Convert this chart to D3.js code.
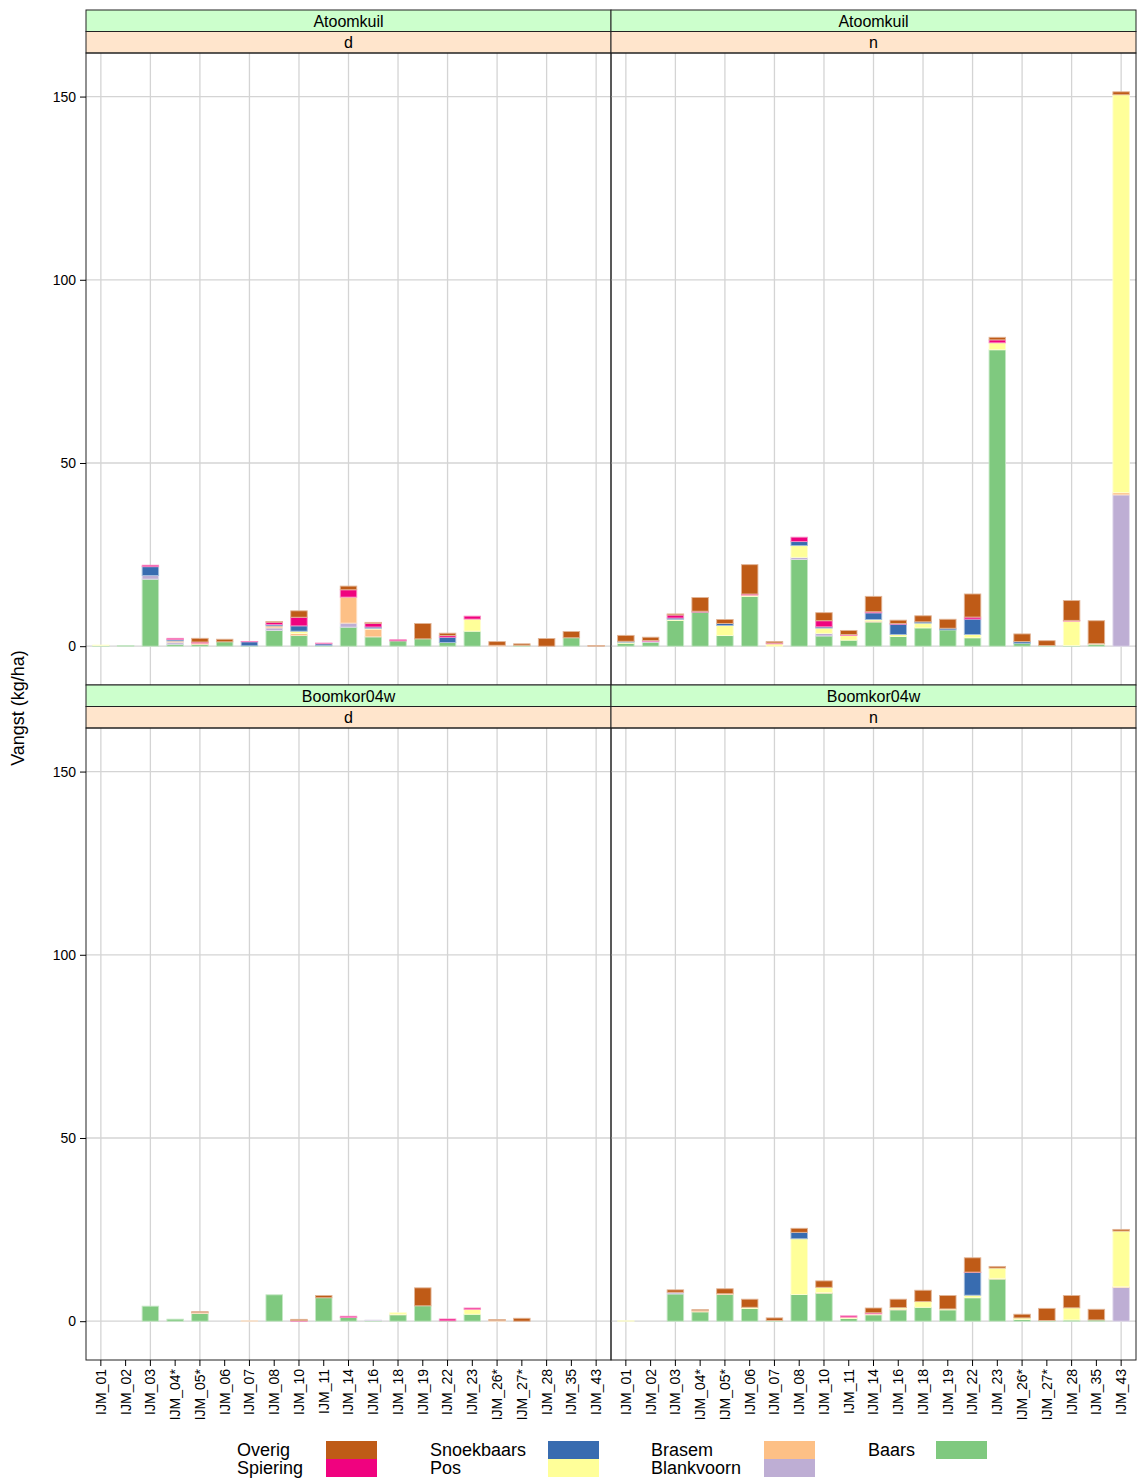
<!DOCTYPE html>
<html>
<head>
<meta charset="utf-8">
<script src="https://cdn.jsdelivr.net/npm/d3@7"></script>
<style>
  body { margin: 0; background: #fff; }
  svg { font-family: "Liberation Sans", Arial, sans-serif; }
</style>
</head>
<body>
<svg id="chart" width="1137" height="1482"></svg>
<script>
// categories (sampling points) along the x axis
const stations = ['IJM_01', 'IJM_02', 'IJM_03', 'IJM_04*', 'IJM_05*', 'IJM_06', 'IJM_07', 'IJM_08',
    'IJM_10', 'IJM_11', 'IJM_14', 'IJM_16', 'IJM_18', 'IJM_19', 'IJM_22', 'IJM_23',
    'IJM_26*', 'IJM_27*', 'IJM_28', 'IJM_35', 'IJM_43'];

// stack order, bottom to top
const species = ['Baars', 'Blankvoorn', 'Brasem', 'Pos', 'Snoekbaars', 'Spiering', 'Overig'];
const speciesColors = ['#7fc97f', '#beaed4', '#fdc086', '#ffff99', '#386cb0', '#f0027f', '#bf5b17'];

const yTicks = [0, 50, 100, 150];

// Atoomkuil, dag (d)
const atoomD = {
    Baars:      [0.2, 0.2, 18.3, 0.55, 0.5, 1.2, 0.1, 4.3, 2.9, 0.2, 5.2, 2.55, 1.45, 2.0, 1.0, 4.1, 0, 0.25, 0, 2.3, 0],
    Blankvoorn: [0, 0, 1.0, 0.55, 0, 0, 0, 0.7, 0, 0, 1.1, 0, 0, 0, 0, 0, 0, 0, 0, 0, 0],
    Brasem:     [0, 0, 0, 0.35, 0.35, 0, 0, 0.55, 0.55, 0, 7.1, 2.1, 0, 0, 0, 0, 0.25, 0, 0, 0, 0],
    Pos:        [0.1, 0, 0, 0, 0, 0, 0, 0, 0.65, 0, 0, 0.25, 0, 0, 0, 3.3, 0, 0, 0, 0, 0],
    Snoekbaars: [0, 0, 2.4, 0.35, 0, 0, 1.1, 0.35, 1.45, 0.45, 0, 0.35, 0, 0, 1.45, 0, 0, 0, 0, 0, 0],
    Spiering:   [0, 0, 0.4, 0.35, 0.3, 0, 0.1, 0.65, 2.35, 0.2, 2.0, 1.0, 0.3, 0, 0.45, 0.8, 0, 0, 0, 0, 0],
    Overig:     [0, 0, 0, 0, 1.0, 0.7, 0, 0.2, 1.75, 0, 1.0, 0.25, 0, 4.2, 0.65, 0, 1.0, 0.4, 2.1, 1.7, 0.2]
};

// Atoomkuil, nacht (n)
const atoomN = {
    Baars:      [0.8, 1.1, 7.0, 9.3, 2.9, 13.6, 0, 23.7, 2.8, 1.65, 6.6, 2.65, 5.0, 4.45, 2.3, 80.9, 0.8, 0.2, 0.2, 0.55, 0],
    Blankvoorn: [0, 0.25, 0, 0, 0, 0, 0, 0.55, 0.7, 0, 0, 0, 0, 0, 0, 0, 0, 0, 0, 0, 41.3],
    Brasem:     [0, 0, 0, 0, 0, 0, 0, 0, 0, 0, 0.3, 0, 0, 0, 0, 0, 0, 0, 0, 0.2, 0.6],
    Pos:        [0.3, 0, 0.35, 0, 2.75, 0.35, 0.65, 3.2, 1.45, 1.3, 0.4, 0.55, 1.3, 0, 0.9, 1.9, 0, 0, 6.65, 0, 108.6],
    Snoekbaars: [0.25, 0, 0.35, 0, 0.55, 0, 0, 1.1, 0.35, 0, 1.8, 2.8, 0.35, 0.45, 4.2, 0, 0.45, 0, 0, 0, 0],
    Spiering:   [0, 0.2, 0.8, 0.25, 0, 0.3, 0.25, 1.2, 1.65, 0.25, 0.3, 0.2, 0, 0, 0.55, 0.8, 0, 0, 0.2, 0, 0],
    Overig:     [1.6, 0.9, 0.3, 3.75, 1.1, 8.0, 0.4, 0, 2.2, 1.1, 4.2, 0.9, 1.65, 2.45, 6.3, 0.7, 2.1, 1.3, 5.4, 6.2, 0.8]
};

// Boomkor04w, dag (d)
const boomD = {
    Baars:      [0, 0, 4.1, 0.55, 2.1, 0, 0, 7.2, 0, 6.4, 1.0, 0.2, 1.75, 4.2, 0.1, 1.9, 0, 0, 0, 0, 0],
    Blankvoorn: [0, 0, 0, 0, 0, 0, 0, 0, 0, 0, 0, 0.1, 0, 0, 0, 0, 0, 0, 0, 0, 0],
    Brasem:     [0, 0, 0, 0, 0.25, 0, 0.1, 0, 0, 0, 0, 0, 0.1, 0, 0, 0, 0.2, 0, 0, 0, 0],
    Pos:        [0, 0, 0, 0, 0, 0, 0, 0, 0, 0, 0, 0, 0.45, 0, 0, 1.35, 0, 0, 0, 0, 0],
    Snoekbaars: [0, 0, 0, 0, 0, 0, 0, 0, 0, 0, 0, 0, 0, 0, 0, 0, 0, 0, 0, 0, 0],
    Spiering:   [0, 0, 0, 0, 0, 0, 0, 0, 0.15, 0, 0.35, 0, 0, 0, 0.5, 0.35, 0, 0, 0, 0, 0],
    Overig:     [0, 0, 0, 0, 0.25, 0, 0, 0, 0.35, 0.6, 0, 0, 0, 4.9, 0, 0, 0.25, 0.8, 0, 0, 0]
};

// Boomkor04w, nacht (n)
const boomN = {
    Baars:      [0, 0, 7.45, 2.55, 7.3, 3.45, 0.2, 7.3, 7.65, 0.75, 1.75, 3.1, 3.8, 3.1, 6.4, 11.5, 0.45, 0.2, 0.35, 0.35, 0],
    Blankvoorn: [0, 0, 0.45, 0, 0, 0, 0, 0, 0, 0, 0, 0, 0, 0, 0, 0, 0, 0, 0, 0, 9.2],
    Brasem:     [0, 0, 0, 0.4, 0.2, 0, 0, 0, 0.15, 0, 0, 0.25, 0, 0, 0, 0.2, 0, 0, 0, 0, 0.2],
    Pos:        [0.1, 0, 0, 0, 0, 0.35, 0, 15.2, 1.45, 0.35, 0.25, 0.35, 1.55, 0.25, 0.7, 2.8, 0.45, 0, 3.3, 0, 15.2],
    Snoekbaars: [0, 0, 0, 0, 0, 0, 0, 1.75, 0, 0, 0, 0, 0, 0, 6.2, 0, 0, 0, 0, 0, 0],
    Spiering:   [0, 0, 0, 0, 0, 0, 0, 0, 0, 0.35, 0.3, 0, 0, 0, 0.1, 0, 0, 0, 0, 0, 0],
    Overig:     [0, 0, 0.65, 0.2, 1.35, 2.2, 0.7, 1.1, 1.75, 0, 1.3, 2.3, 3.1, 3.65, 3.9, 0.45, 1.0, 3.3, 3.35, 2.9, 0.45]
};

const panels = [
    { location: 'Atoomkuil', period: 'd', data: atoomD, col: 0, row: 0 },
    { location: 'Atoomkuil', period: 'n', data: atoomN, col: 1, row: 0 },
    { location: 'Boomkor04w', period: 'd', data: boomD, col: 0, row: 1 },
    { location: 'Boomkor04w', period: 'n', data: boomN, col: 1, row: 1 }
];

// legend layout: columns of two entries each
const legendColumns = [['Overig', 'Spiering'], ['Snoekbaars', 'Pos'], ['Brasem', 'Blankvoorn'], ['Baars']];

const svg = d3.select('#chart');
const colorOf = d3.scaleOrdinal().domain(species).range(speciesColors);

// layout
const colX = [86, 611, 1136];
const rowTop = [10, 685];
const stripH = 21.5;
const plotH = 632;

// y domain like lattice: data range padded by 7%
function toRows(data) {
    return stations.map((s, i) => {
        const row = { station: s };
        species.forEach(sp => { row[sp] = data[sp][i]; });
        return row;
    });
}
const maxTotal = d3.max(panels, p => d3.max(toRows(p.data), r => d3.sum(species, sp => r[sp])));
const pad = maxTotal * 0.07;

const stack = d3.stack().keys(species);

panels.forEach(p => {
    const x0 = colX[p.col], x1 = colX[p.col + 1];
    const top = rowTop[p.row];
    const plotTop = top + 2 * stripH;
    const plotBottom = plotTop + plotH;

    const x = d3.scaleBand().domain(stations).range([x0, x1])
        .paddingInner(1 / 3).paddingOuter(0.2667);
    const y = d3.scaleLinear().domain([-pad, maxTotal + pad]).range([plotBottom, plotTop]);

    const g = svg.append('g');

    // grid
    g.selectAll('.hgrid').data(yTicks).enter().append('line')
        .attr('x1', x0).attr('x2', x1)
        .attr('y1', d => y(d)).attr('y2', d => y(d))
        .attr('stroke', '#d4d4d4').attr('stroke-width', 1.3);
    g.selectAll('.vgrid').data(stations.filter((s, i) => i % 2 === 0)).enter().append('line')
        .attr('x1', d => x(d) + x.bandwidth() / 2).attr('x2', d => x(d) + x.bandwidth() / 2)
        .attr('y1', plotTop).attr('y2', plotBottom)
        .attr('stroke', '#d4d4d4').attr('stroke-width', 1.3);

    // bars
    const series = stack(toRows(p.data));
    series.forEach(s => {
        const fill = colorOf(s.key);
        g.selectAll(null).data(s.filter(d => d[1] - d[0] > 0)).enter().append('rect')
            .attr('x', d => x(d.data.station))
            .attr('width', x.bandwidth())
            .attr('y', d => y(d[1]))
            .attr('height', d => y(d[0]) - y(d[1]))
            .attr('fill', fill)
            .attr('stroke', d3.interpolateRgb(fill, '#ffffff')(0.55))
            .attr('stroke-width', 0.9);
    });

    // strips
    g.append('rect').attr('x', x0).attr('y', top).attr('width', x1 - x0).attr('height', stripH)
        .attr('fill', '#ccffcc').attr('stroke', '#222').attr('stroke-width', 1);
    g.append('rect').attr('x', x0).attr('y', top + stripH).attr('width', x1 - x0).attr('height', stripH)
        .attr('fill', '#ffe5cc').attr('stroke', '#222').attr('stroke-width', 1);
    g.append('text').attr('x', (x0 + x1) / 2).attr('y', top + stripH / 2).attr('dy', '0.36em')
        .attr('text-anchor', 'middle').attr('font-size', 16).attr('fill', '#000').text(p.location);
    g.append('text').attr('x', (x0 + x1) / 2).attr('y', top + stripH * 1.5).attr('dy', '0.36em')
        .attr('text-anchor', 'middle').attr('font-size', 16).attr('fill', '#000').text(p.period);

    // panel frame
    g.append('rect').attr('x', x0).attr('y', plotTop).attr('width', x1 - x0).attr('height', plotH)
        .attr('fill', 'none').attr('stroke', '#222').attr('stroke-width', 1);

    // y axis on left column only
    if (p.col === 0) {
        const ax = d3.axisLeft(y).tickValues(yTicks).tickSize(6).tickPadding(4);
        const a = svg.append('g').attr('transform', `translate(${x0},0)`).call(ax);
        a.select('.domain').remove();
        a.selectAll('text').attr('font-size', 14).attr('fill', '#000')
            .attr('font-family', '"Liberation Sans", Arial, sans-serif');
        a.selectAll('line').attr('stroke', '#000');
    }

    // x axis on bottom row only
    if (p.row === 1) {
        const ax = d3.axisBottom(x).tickSize(6).tickPadding(4);
        const a = svg.append('g').attr('transform', `translate(0,${plotBottom})`).call(ax);
        a.select('.domain').remove();
        a.selectAll('line').attr('stroke', '#000');
        a.selectAll('text')
            .attr('font-size', 14).attr('fill', '#000')
            .attr('font-family', '"Liberation Sans", Arial, sans-serif')
            .attr('transform', 'rotate(-90)')
            .attr('text-anchor', 'end')
            .attr('x', -9).attr('y', 0).attr('dy', '0.35em');
    }
});

// y axis title
svg.append('text')
    .attr('transform', 'translate(24,708) rotate(-90)')
    .attr('text-anchor', 'middle').attr('font-size', 18).attr('fill', '#000')
    .text('Vangst (kg/ha)');

// legend
const legendTextX = [237, 430, 651, 868];
const legendRectX = [326, 548, 764, 936];
const legendTop = 1441, legendRowH = 18;
legendColumns.forEach((col, ci) => {
    col.forEach((name, ri) => {
        const yy = legendTop + ri * legendRowH;
        svg.append('rect').attr('x', legendRectX[ci]).attr('y', yy)
            .attr('width', 51).attr('height', legendRowH)
            .attr('fill', colorOf(name));
        svg.append('text').attr('x', legendTextX[ci]).attr('y', yy + legendRowH / 2).attr('dy', '0.36em')
            .attr('font-size', 18).attr('fill', '#000').text(name);
    });
});
</script>
</body>
</html>
